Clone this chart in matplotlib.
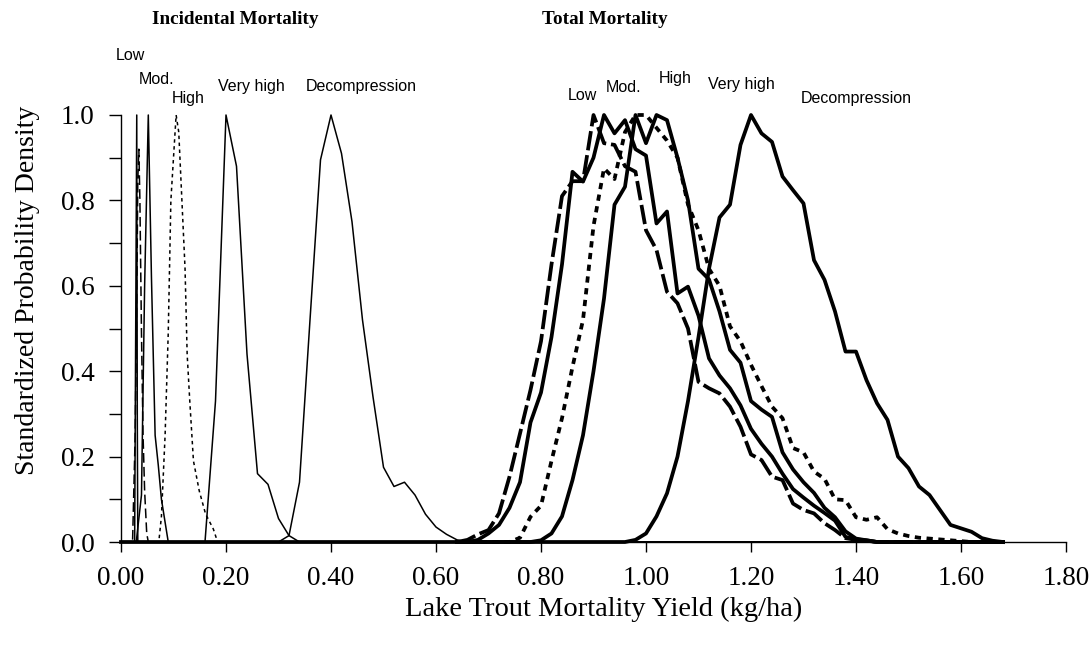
import matplotlib
matplotlib.use("Agg")
import matplotlib.pyplot as plt

plt.rcParams['lines.scale_dashes'] = False

# ---------------- data ----------------
# Incidental mortality (thin lines)
inc_low_x = [0.0, 0.022, 0.027, 0.030, 0.032, 0.034, 0.036, 0.039, 0.042, 0.045, 0.049, 0.052, 1.68]
inc_low_y = [0.0, 0.0, 0.25, 0.57, 0.85, 0.92, 0.80, 0.49, 0.25, 0.12, 0.02, 0.0, 0.0]

inc_spike_x = [0.0, 0.026, 0.030, 0.031, 0.032, 1.68]
inc_spike_y = [0.0, 0.0, 1.0, 0.30, 0.0, 0.0]

inc_mod_x = [0.0, 0.029, 0.039, 0.045, 0.052, 0.058, 0.065, 0.071, 0.077, 0.090, 1.68]
inc_mod_y = [0.0, 0.0, 0.11, 0.60, 1.0, 0.62, 0.25, 0.18, 0.10, 0.0, 0.0]

inc_high_x = [0.0, 0.072, 0.077, 0.084, 0.090, 0.095, 0.100, 0.105, 0.110, 0.116,
              0.122, 0.126, 0.131, 0.138, 0.149, 0.161, 0.176, 0.184, 1.68]
inc_high_y = [0.0, 0.0, 0.06, 0.25, 0.49, 0.80, 0.90, 1.0, 0.96, 0.80,
              0.64, 0.44, 0.33, 0.19, 0.12, 0.066, 0.03, 0.0, 0.0]

inc_vhigh_x = [0.0, 0.16, 0.18, 0.20, 0.22, 0.24, 0.26, 0.28, 0.30, 0.32, 0.34, 1.68]
inc_vhigh_y = [0.0, 0.0, 0.33, 1.0, 0.88, 0.44, 0.16, 0.135, 0.055, 0.015, 0.0, 0.0]

inc_dec_x = [0.0, 0.30, 0.32, 0.34, 0.36, 0.38, 0.40, 0.42, 0.44, 0.46, 0.48, 0.50,
             0.52, 0.54, 0.56, 0.58, 0.60, 0.62, 0.64, 0.66, 1.68]
inc_dec_y = [0.0, 0.0, 0.015, 0.14, 0.52, 0.895, 1.0, 0.91, 0.75, 0.52, 0.34, 0.175,
             0.13, 0.14, 0.11, 0.065, 0.035, 0.018, 0.005, 0.0, 0.0]

# Total mortality (thick lines), x step 0.02
tot_x = [round(0.64 + 0.02 * i, 2) for i in range(53)]  # 0.64 ... 1.68

tot_low_y = [0.0, 0.005, 0.018, 0.028, 0.067, 0.153, 0.254, 0.356, 0.47, 0.65,
             0.81, 0.845, 0.845, 1.0, 0.934, 0.93, 0.88, 0.867, 0.73, 0.684,
             0.586, 0.559, 0.50, 0.375, 0.36, 0.348, 0.317, 0.27, 0.205, 0.192,
             0.153, 0.145, 0.09, 0.075, 0.067, 0.044, 0.028, 0.009, 0.005, 0.003,
             0.0, 0.0, 0.0, 0.0, 0.0, 0.0, 0.0, 0.0, 0.0, 0.0,
             0.0, 0.0, 0.0]

tot_mod_y = [0.0, 0.0, 0.005, 0.02, 0.04, 0.08, 0.14, 0.28, 0.35, 0.48,
             0.65, 0.867, 0.844, 0.90, 1.0, 0.957, 0.988, 0.92, 0.905, 0.746,
             0.774, 0.582, 0.598, 0.53, 0.43, 0.39, 0.36, 0.32, 0.265, 0.23,
             0.20, 0.16, 0.124, 0.104, 0.085, 0.068, 0.05, 0.012, 0.006, 0.004,
             0.0, 0.0, 0.0, 0.0, 0.0, 0.0, 0.0, 0.0, 0.0, 0.0,
             0.0, 0.0, 0.0]

tot_high_y = [0.0, 0.0, 0.0, 0.0, 0.0, 0.0, 0.01, 0.059, 0.085, 0.19,
              0.29, 0.41, 0.52, 0.74, 0.875, 0.85, 0.96, 1.0, 1.0, 0.97,
              0.94, 0.90, 0.79, 0.73, 0.64, 0.60, 0.505, 0.47, 0.415, 0.365,
              0.317, 0.29, 0.22, 0.21, 0.165, 0.148, 0.10, 0.098, 0.058, 0.052,
              0.058, 0.03, 0.02, 0.014, 0.01, 0.008, 0.006, 0.004, 0.002, 0.0,
              0.0, 0.0, 0.0]

tot_vhigh_y = [0.0, 0.0, 0.0, 0.0, 0.0, 0.0, 0.0, 0.0, 0.004, 0.02,
               0.06, 0.145, 0.25, 0.40, 0.57, 0.79, 0.832, 1.0, 0.934, 1.0,
               0.988, 0.90, 0.80, 0.64, 0.615, 0.54, 0.45, 0.42, 0.33, 0.31,
               0.293, 0.21, 0.17, 0.14, 0.115, 0.08, 0.058, 0.025, 0.008, 0.004,
               0.0, 0.0, 0.0, 0.0, 0.0, 0.0, 0.0, 0.0, 0.0, 0.0,
               0.0, 0.0, 0.0]

tot_dec_y = [0.0, 0.0, 0.0, 0.0, 0.0, 0.0, 0.0, 0.0, 0.0, 0.0,
             0.0, 0.0, 0.0, 0.0, 0.0, 0.0, 0.0, 0.005, 0.02, 0.06,
             0.114, 0.20, 0.33, 0.48, 0.64, 0.76, 0.79, 0.93, 1.0, 0.957,
             0.937, 0.856, 0.824, 0.793, 0.66, 0.614, 0.54, 0.446, 0.446, 0.379,
             0.325, 0.286, 0.20, 0.173, 0.13, 0.11, 0.075, 0.04, 0.032, 0.024,
             0.009, 0.003, 0.0]

base_x = [0.0, 0.64]
base_y = [0.0, 0.0]

x_ticks = [0.0, 0.2, 0.4, 0.6, 0.8, 1.0, 1.2, 1.4, 1.6, 1.8]
x_ticklabels = ["0.00", "0.20", "0.40", "0.60", "0.80", "1.00", "1.20", "1.40", "1.60", "1.80"]
y_ticks = [0.0, 0.1, 0.2, 0.3, 0.4, 0.5, 0.6, 0.7, 0.8, 0.9, 1.0]
y_ticklabels = ["0.0", "", "0.2", "", "0.4", "", "0.6", "", "0.8", "", "1.0"]

inc_labels = ["Low", "Mod.", "High", "Very high", "Decompression"]
tot_labels = ["Low", "Mod.", "High", "Very high", "Decompression"]

# ---------------- figure ----------------
W, H = 1091, 647
fig = plt.figure(figsize=(W / 100, H / 100), dpi=100)
ax = fig.add_axes([121 / W, (H - 542) / H, (1066 - 121) / W, (542 - 115) / H])

thin = 1.1
thick = 2.7
k = 'black'

ax.plot(inc_spike_x, inc_spike_y, color=k, lw=thin, clip_on=False)
ax.plot(inc_low_x, inc_low_y, color=k, lw=thin, dashes=(7, 3), clip_on=False)
ax.plot(inc_mod_x, inc_mod_y, color=k, lw=thin, clip_on=False)
ax.plot(inc_high_x, inc_high_y, color=k, lw=thin, dashes=(2.5, 2.5), clip_on=False)
ax.plot(inc_vhigh_x, inc_vhigh_y, color=k, lw=thin, clip_on=False)
ax.plot(inc_dec_x, inc_dec_y, color=k, lw=thin, clip_on=False)

ax.plot(base_x, base_y, color=k, lw=thick, clip_on=False)
ax.plot(tot_x, tot_low_y, color=k, lw=thick, dashes=(14, 3.5), clip_on=False)
ax.plot(tot_x, tot_mod_y, color=k, lw=thick, clip_on=False)
ax.plot(tot_x, tot_high_y, color=k, lw=thick, dashes=(4.5, 4), clip_on=False)
ax.plot(tot_x, tot_vhigh_y, color=k, lw=thick, clip_on=False)
ax.plot(tot_x, tot_dec_y, color=k, lw=thick, clip_on=False)

ax.set_xlim(0, 1.8)
ax.set_ylim(0, 1.0)
for s in ['top', 'right']:
    ax.spines[s].set_visible(False)
ax.spines['left'].set_linewidth(1.0)
ax.spines['bottom'].set_linewidth(1.0)

serif = 'Liberation Serif'
ax.set_xticks(x_ticks)
ax.set_xticklabels(x_ticklabels, fontsize=19.5, family=serif)
ax.set_yticks(y_ticks)
ax.set_yticklabels(y_ticklabels, fontsize=19.5, family=serif)
ax.tick_params(axis='x', direction='out', length=7, width=1.0, pad=10)
ax.tick_params(axis='y', direction='out', length=9, width=1.0, pad=10)

ax.set_xlabel("Lake Trout Mortality Yield (kg/ha)", fontsize=20.5, family=serif)
ax.set_ylabel("Standardized Probability Density", fontsize=20, family=serif)
ax.xaxis.set_label_coords((604 - 121) / 945, (542 - 597) / 427)
ax.yaxis.set_label_coords((40 - 121) / 945, (542 - 290) / 427)

def ftext(px, py, s, **kw):
    fig.text(px / W, 1 - py / H, s, ha='center', va='center', **kw)

ftext(235, 19, "Incidental Mortality", fontsize=13.8, family=serif, fontweight='bold')
ftext(605, 19, "Total Mortality", fontsize=13.8, family=serif, fontweight='bold')

sans = 'Liberation Sans'
inc_pos = [(130, 56), (157, 80), (188, 99), (251, 87), (361, 87)]
tot_pos = [(582, 96), (624, 87), (675, 78), (741, 85), (856, 99)]
for lab, (px, py) in zip(inc_labels, inc_pos):
    ftext(px, py, lab, fontsize=11.5, family=sans)
for lab, (px, py) in zip(tot_labels, tot_pos):
    ftext(px, py, lab, fontsize=11.5, family=sans)

fig.savefig("out.png", dpi=100)
